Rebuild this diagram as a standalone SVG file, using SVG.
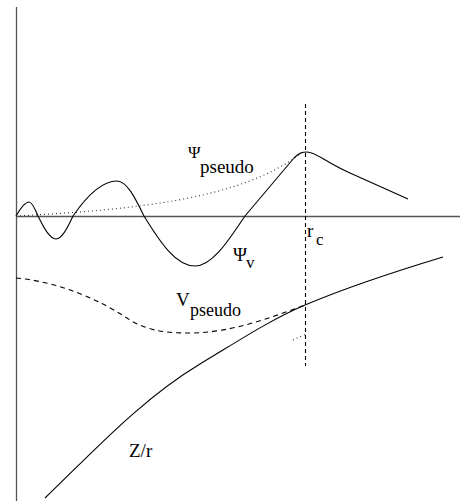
<svg xmlns="http://www.w3.org/2000/svg" width="460" height="501" viewBox="0 0 460 501">
<style>
.ax{stroke:#555;stroke-width:1.3;fill:none}
.solid{stroke:#000;stroke-width:1.1;fill:none}
.dot{stroke:#333;stroke-width:1.1;fill:none;stroke-dasharray:1 3}
.dash{stroke:#000;stroke-width:1.1;fill:none;stroke-dasharray:5 4}
.vdash{stroke:#000;stroke-width:1.1;fill:none;stroke-dasharray:4 3}
.lbl{font-family:"Liberation Serif","Times New Roman",serif;fill:#000}
</style>
<rect width="460" height="501" fill="#fff"/>
<g id="axes">
<line class="ax" x1="16.5" y1="7" x2="16.5" y2="501"/>
<line class="ax" x1="16" y1="216.5" x2="460" y2="216.5"/>
<line class="vdash" x1="305.5" y1="104" x2="305.5" y2="366"/>
</g>
<g id="connectors">
<path id="psi-v" class="solid" d="M16,216 C20.2,208.8 24.5,202 29,202 C32.2,202 35.1,208.8 38,216 C43.9,227.8 49.7,239 56,239 C62,239 67.5,227.8 73,216 C86,197 101.6,181 117,181 C127,181 135.2,198.1 144,216 C160.6,243 176,266 195,266 C213,266 230,238 245,216 L294,158 C299,153 302,152 307,152 C316,152 325,162 350,173 L408,199"/>
<path id="psi-pseudo" class="dot" d="M16,216 C130,210 240,200 300,154"/>
<path id="v-pseudo" class="dash" d="M16,278 C60,282 100,300 130,320 C150,332 170,333 190,333 C230,333 270,318 305,305"/>
<path id="z-r" class="solid" d="M45,498 C90,455 140,400 200,364 C240,340 270,320 305,305 C350,286 400,270 443,257"/>
<path id="frag" class="dot" d="M293,340 L306,334"/>
</g>
<g id="label-psi-pseudo" class="lbl"><text x="188" y="158" font-size="17">Ψ</text><text x="200" y="173" font-size="19">pseudo</text></g>
<g id="label-psi-v" class="lbl"><text x="233" y="261" font-size="19">Ψ</text><text x="246" y="268" font-size="17">v</text></g>
<g id="label-rc" class="lbl"><text x="307" y="237" font-size="19">r</text><text x="316" y="245" font-size="17">c</text></g>
<g id="label-v-pseudo" class="lbl"><text x="176" y="306" font-size="19">V</text><text x="190" y="316" font-size="18">pseudo</text></g>
<g id="label-zr" class="lbl"><text x="129" y="457" font-size="19">Z/r</text></g>
</svg>
